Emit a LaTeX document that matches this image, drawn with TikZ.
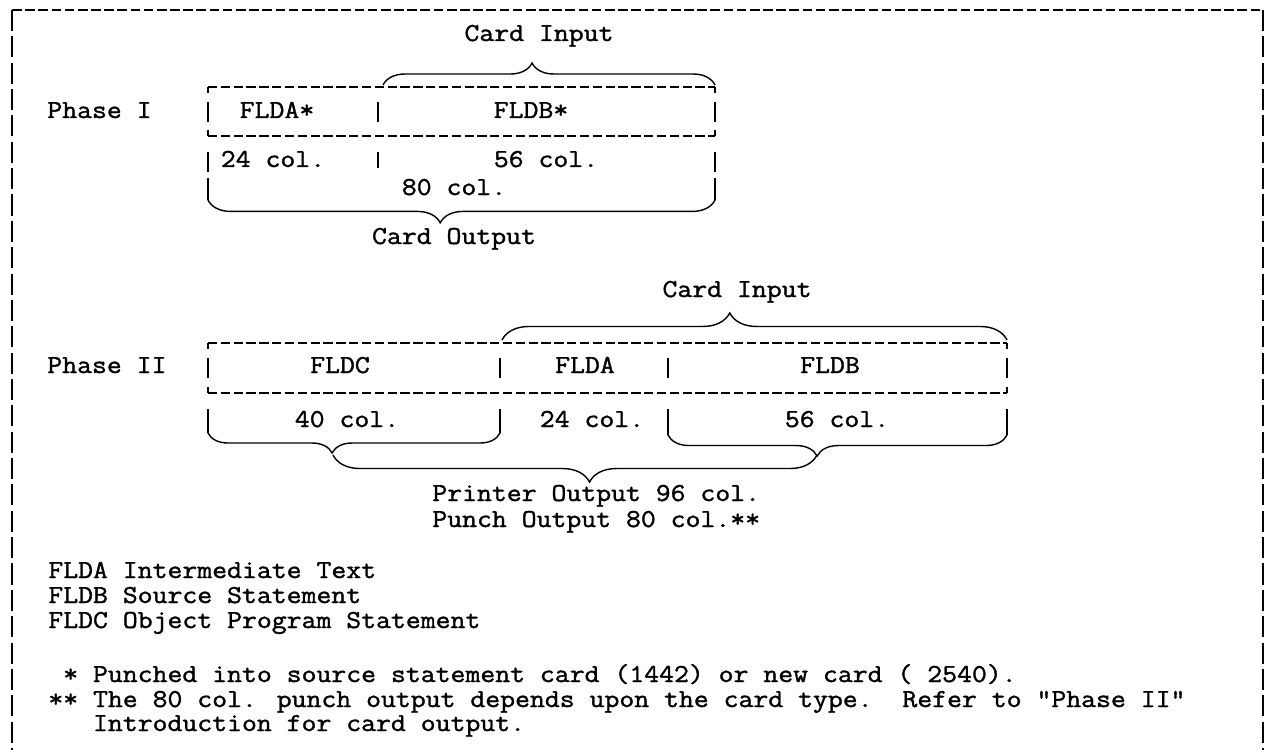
\documentclass[tikz,border=0pt]{standalone}
\usepackage{fontspec}
\usetikzlibrary{decorations.pathreplacing}
\newfontfamily\tw{Latin Modern Mono}[FakeBold=1.4,FakeStretch=1.12]
\begin{document}
\begin{tikzpicture}[x=0.02cm,y=-0.02cm,
  txt/.style={font=\tw\fontsize{14.7}{17}\selectfont, inner sep=0pt, anchor=base},
  ltxt/.style={txt, anchor=base west},
  hframe/.style={line width=1.2pt, dash pattern=on 5.5pt off 2pt},
  vframe/.style={line width=1.3pt, dash pattern=on 12pt off 3pt},
  boxline/.style={line width=1pt, dash pattern=on 5.3pt off 2pt},
  bar/.style={line width=1.1pt},
  brc/.style 2 args={line width=0.8pt, decorate, decoration={brace, amplitude=#1, aspect=#2}},
  mbrc/.style 2 args={line width=0.8pt, decorate, decoration={brace, mirror, amplitude=#1, aspect=#2}}]
\useasboundingbox (0,0) rectangle (1265,750);

% outer frame
\coordinate (tl) at (12,10);
\coordinate (tr) at (1263,10);
\coordinate (bl) at (12,750);
\coordinate (br) at (1263,750);
\draw[hframe] (tl) -- (tr);
\draw[vframe] (tl) -- (bl);
\draw[vframe] (tr) -- (br);

% ---------------- Phase I ----------------
\node[ltxt] (ph1) at (47,118) {Phase I};
\node[txt] (ci1) at (539,41) {Card Input};
\node[txt] (fa1) at (277,118) {FLDA*};
\node[txt] (fb1) at (531,118) {FLDB*};
\node[txt] (c24a) at (273,167) {24 col.};
\node[txt] (c56a) at (546,167) {56 col.};
\node[txt] (c80) at (454,195) {80 col.};
\node[txt] (co1) at (454,244) {Card Output};

% box
\coordinate (p1tl) at (208,87);
\coordinate (p1tr) at (715,87);
\coordinate (p1bl) at (208,136);
\coordinate (p1br) at (715,136);
\draw[boxline] (p1tl) -- (p1tr);
\draw[boxline] (p1bl) -- (p1br);
\draw[bar] (p1tl) -- ++(0,6);
\draw[bar] (p1tr) -- ++(0,6);
\draw[bar] (p1bl) -- ++(0,-6);
\draw[bar] (p1br) -- ++(0,-6);
\draw[bar] (208,102) -- (208,122);
\draw[bar] (378,102) -- (378,122);
\draw[bar] (715,102) -- (715,122);
% row 2 bars
\draw[bar] (208,152) -- (208,172);
\draw[bar] (208,178) -- (208,200);
\draw[bar] (378,152) -- (378,168);
\draw[bar] (715,152) -- (715,172);
\draw[bar] (715,178) -- (715,200);
% braces
\coordinate (b1a) at (383,85);
\coordinate (b1b) at (715,85);
\draw[brc={12.5pt}{0.449}] (b1a) -- (b1b);
\coordinate (b2a) at (208,200);
\coordinate (b2b) at (715,200);
\draw[mbrc={13pt}{0.458}] (b2a) -- (b2b);

% ---------------- Phase II ----------------
\node[ltxt] (ph2) at (47,373) {Phase II};
\node[txt] (ci2) at (737,297) {Card Input};
\node[txt] (fc2) at (340,373) {FLDC};
\node[txt] (fa2) at (585,373) {FLDA};
\node[txt] (fb2) at (830,373) {FLDB};
\node[txt] (c40) at (347,427) {40 col.};
\node[txt] (c24b) at (592,427) {24 col.};
\node[txt] (c56b) at (837,427) {56 col.};
\node[ltxt] (po) at (432,501) {Printer Output 96 col.};
\node[ltxt] (pu) at (432,527) {Punch Output 80 col.**};

% box
\coordinate (p2tl) at (208,343);
\coordinate (p2tr) at (1007,343);
\coordinate (p2bl) at (208,393);
\coordinate (p2br) at (1007,393);
\draw[boxline] (p2tl) -- (p2tr);
\draw[boxline] (p2bl) -- (p2br);
\draw[bar] (p2tl) -- ++(0,6);
\draw[bar] (p2tr) -- ++(0,6);
\draw[bar] (p2bl) -- ++(0,-6);
\draw[bar] (p2br) -- ++(0,-6);
\draw[bar] (208,358) -- (208,378);
\draw[bar] (500,358) -- (500,378);
\draw[bar] (668,358) -- (668,378);
\draw[bar] (1007,358) -- (1007,378);
% row 2 bars
\draw[bar] (208,409) -- (208,433);
\draw[bar] (500,409) -- (500,433);
\draw[bar] (668,409) -- (668,435);
\draw[bar] (1007,409) -- (1007,435);
% braces
\coordinate (b3a) at (502,340);
\coordinate (b3b) at (1007,340);
\draw[brc={15.4pt}{0.451}] (b3a) -- (b3b);
\coordinate (b4a) at (208,433);
\coordinate (b4b) at (500,433);
\draw[mbrc={11.4pt}{0.425}] (b4a) -- (b4b);
\coordinate (b5a) at (668,435);
\coordinate (b5b) at (1007,435);
\draw[mbrc={12pt}{0.44}] (b5a) -- (b5b);
\coordinate (b6a) at (333,455);
\coordinate (b6b) at (817,455);
\draw[mbrc={15.4pt}{0.53}] (b6a) -- (b6b);

% ---------------- legend and notes ----------------
\node[ltxt] (l1) at (48,578) {FLDA Intermediate Text};
\node[ltxt] (l2) at (48,603) {FLDB Source Statement};
\node[ltxt] (l3) at (48,628) {FLDC Object Program Statement};
\node[ltxt] (f1) at (48,682) {\ * Punched into source statement card (1442) or new card ( 2540).};
\node[ltxt] (f2) at (48,707) {** The 80 col. punch output depends upon the card type.\ \ Refer to "Phase II"};
\node[ltxt] (f3) at (48,731) {\ \ \ Introduction for card output.};
\end{tikzpicture}
\end{document}
